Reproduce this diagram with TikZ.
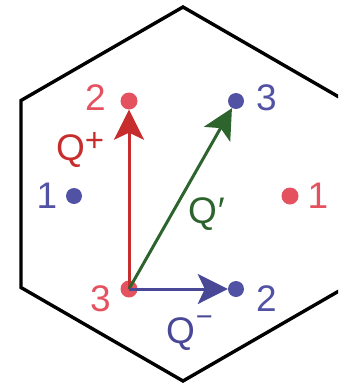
\documentclass[tikz,border=0pt]{standalone}
\usepackage{fontspec}
\setmainfont{Liberation Sans}
\usetikzlibrary{arrows.meta}
\definecolor{redA}{RGB}{200,45,45}
\definecolor{redD}{RGB}{228,82,96}
\definecolor{blueA}{RGB}{72,72,150}
\definecolor{blueD}{RGB}{82,82,165}
\definecolor{greenA}{RGB}{45,100,45}
\tikzset{
  dotr/.style={circle,fill=redD,minimum size=17pt,inner sep=0pt},
  dotb/.style={circle,fill=blueD,minimum size=16pt,inner sep=0pt},
  lbl/.style={font=\fontsize{37}{37}\selectfont,inner sep=0pt,anchor=base},
  vec/.style={line width=3pt,-{Stealth[length=30pt,width=30pt,inset=7pt]}},
}
\begin{document}
\begin{tikzpicture}[x=1pt,y=-1pt]
\useasboundingbox (0,0) rectangle (338,383);
\clip (0,0) rectangle (338,383);
% hexagon
\draw[line width=3.4pt,line join=miter] (183,7) -- (345,100.5) -- (345,287.5) -- (183,381) -- (21,287.5) -- (21,100.5) -- cycle;
% dots
\node[dotr] (r2) at (129,101) {};
\node[dotb] (b3) at (236,101) {};
\node[dotb] (b1) at (74,196) {};
\node[dotr] (r1) at (290,196) {};
\node[dotr] (r3) at (129,289) {};
\node[dotb] (b2) at (236,289) {};
% digit labels
\node[lbl,text=redD] (lr2) at (95.5,110) {2};
\node[lbl,text=blueD] (lb3) at (266.5,110) {3};
\node[lbl,text=blueD] (lb1) at (47,208.5) {1};
\node[lbl,text=redD] (lr1) at (318,208.5) {1};
\node[lbl,text=redD] (lr3) at (100.5,311) {3};
\node[lbl,text=blueD] (lb2) at (266.5,311) {2};
% vectors
\draw[vec,redA] (r3.center) -- (r2);
\draw[vec,greenA] (r3.center) -- (b3);
\draw[vec,blueA] (r3.center) -- (b2);
% vector labels
\node[lbl,anchor=base west,text=redA] (qp) at (56,160) {Q\raisebox{9pt}{\fontsize{33}{33}\selectfont +}};
\node[lbl,anchor=base west,text=greenA] (qq) at (188,223) {Q\kern1pt\raisebox{0pt}{′}};
\node[lbl,anchor=base west,text=blueA] (qm) at (166,343) {Q\kern1pt\raisebox{16.5pt}{\fontsize{29}{29}\selectfont −}};
\end{tikzpicture}
\end{document}
